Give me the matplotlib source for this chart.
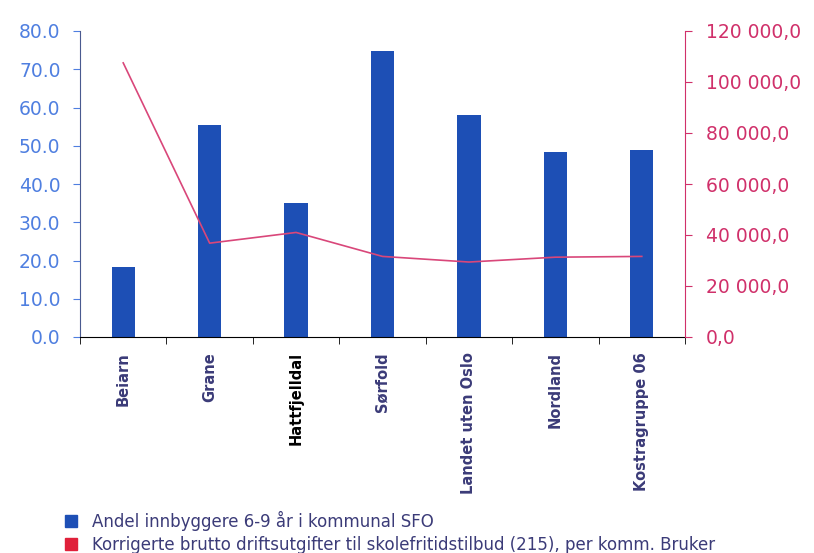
import numpy as np
import matplotlib
matplotlib.use('Agg')
import matplotlib.pyplot as plt
from matplotlib.ticker import FuncFormatter
from matplotlib.patches import Patch

# data
categories = ["Beiarn", "Grane", "Hattfjelldal", "Sørfold", "Landet uten Oslo", "Nordland", "Kostragruppe 06"]
andel_sfo = [18.2, 55.3, 35.0, 74.7, 58.1, 48.4, 48.9]
utgifter = [107500, 36800, 41000, 31600, 29400, 31300, 31600]

label_bar = "Andel innbyggere 6-9 år i kommunal SFO"
label_line = "Korrigerte brutto driftsutgifter til skolefritidstilbud (215), per komm. Bruker"

bar_col = "#1d4fb5"
line_col = "#d9477a"
left_col = "#4f7fe0"
right_col = "#d0306a"
text_col = "#3b3b78"

plt.rcParams['font.family'] = ['DejaVu Sans']

fig = plt.figure(figsize=(8.14, 5.53), dpi=100)
ax = fig.add_axes([80/814, 1 - 337/553, 605/814, 306/553])
x = np.arange(len(categories))
ax.bar(x, andel_sfo, width=0.27, color=bar_col, zorder=2)
ax.set_xlim(-0.5, len(categories) - 0.5)
ax.set_ylim(0, 80)
ax.set_yticks(np.arange(0, 81, 10))
ax.yaxis.set_major_formatter(FuncFormatter(lambda v, p: "%.1f" % v))
ax.tick_params(axis='y', colors=left_col, labelsize=13.5, length=5, direction='out', pad=9)
ax.spines['left'].set_color("#4a5a90")
ax.spines['top'].set_visible(False)
ax.spines['right'].set_visible(False)
ax.spines['bottom'].set_color("black")

ax.set_xticks(x)
ax.set_xticklabels(categories, rotation=90, fontsize=10.5, fontweight='bold', color=text_col)
ax.tick_params(axis='x', length=0, pad=11)
ax.set_xticks(np.arange(-0.5, len(categories), 1), minor=True)
ax.tick_params(axis='x', which='minor', length=5, color='black', direction='out')
ax.get_xticklabels()[2].set_color("black")

ax2 = ax.twinx()
ax2.plot(x, utgifter, color=line_col, lw=1.2, zorder=3)
ax2.set_ylim(0, 120000)
ax2.set_yticks(np.arange(0, 120001, 20000))
ax2.yaxis.set_major_formatter(FuncFormatter(lambda v, p: ("{:,.1f}".format(v)).replace(",", " ").replace(".", ",")))
ax2.tick_params(axis='y', colors=right_col, labelsize=13.5, length=5, direction='out', pad=10)
ax2.spines['right'].set_color(right_col)
ax2.spines['top'].set_visible(False)
ax2.spines['left'].set_visible(False)
ax2.spines['bottom'].set_visible(False)

handles = [Patch(color=bar_col, label=label_bar), Patch(color="#e0203a", label=label_line)]
leg = fig.legend(handles=handles, loc='upper left', bbox_to_anchor=(50/814, 1 - 496/553), frameon=False,
                 fontsize=12, handlelength=0.7, handleheight=0.7, handletextpad=0.9, labelspacing=0.3)
for t in leg.get_texts():
    t.set_color(text_col)

fig.savefig("out.png", dpi=100)
